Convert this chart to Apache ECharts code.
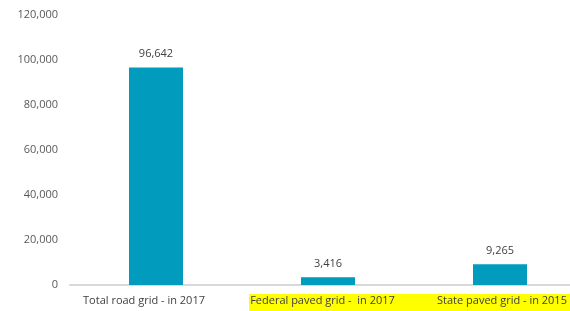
<!DOCTYPE html>
<html><head><meta charset="utf-8">
<script src="https://cdn.jsdelivr.net/npm/echarts@6/dist/echarts.min.js"></script>
<style>html,body{margin:0;padding:0;background:#fff;overflow:hidden}#c{width:600px;height:311px}</style>
</head><body><div id="c"></div>
<script>
const categories = ["Total road grid - in 2017", "Federal paved grid -  in 2017", "State paved grid - in 2015"];
const values = [96642, 3416, 9265];
const yTicks = [0, 20000, 40000, 60000, 80000, 100000, 120000];

const labelPads = [[0, 24, 0, 0], [0, 11, 0, 0], [0, 0, 0, 4]];
const fmt = v => v.toLocaleString('en-US');
const chart = echarts.init(document.getElementById('c'));
chart.setOption({
  animation: false,
  graphic: [{type:'rect', left: 249, top: 294, shape:{width: 340, height: 17}, style:{fill:'#ffff00'}, z: -10}],
  grid: {left: 70, top: 15, width: 516, height: 270, containLabel: false},
  xAxis: {
    type: 'category',
    data: categories.map((c, i) => ({value: c, textStyle: {padding: labelPads[i]}})),
    axisLine: {lineStyle: {color: '#d9d9d9', width: 2}},
    axisTick: {show: false},
    axisLabel: {color: '#404040', fontFamily: 'Open Sans', fontSize: 11, margin: 10, interval: 0}
  },
  yAxis: {
    type: 'value', min: yTicks[0], max: yTicks[yTicks.length-1], interval: 20000,
    axisLine: {show: false}, axisTick: {show: false}, splitLine: {show: false},
    axisLabel: {color: '#595959', fontFamily: 'Open Sans', fontSize: 11, margin: 12, formatter: v => fmt(v)}
  },
  series: [{
    type: 'bar', data: values, barWidth: 54,
    itemStyle: {color: '#009bbd'},
    label: {show: true, position: 'top', distance: 8, color: '#404040', fontFamily: 'Open Sans', fontSize: 11, formatter: p => fmt(p.value)}
  }]
});
</script></body></html>
